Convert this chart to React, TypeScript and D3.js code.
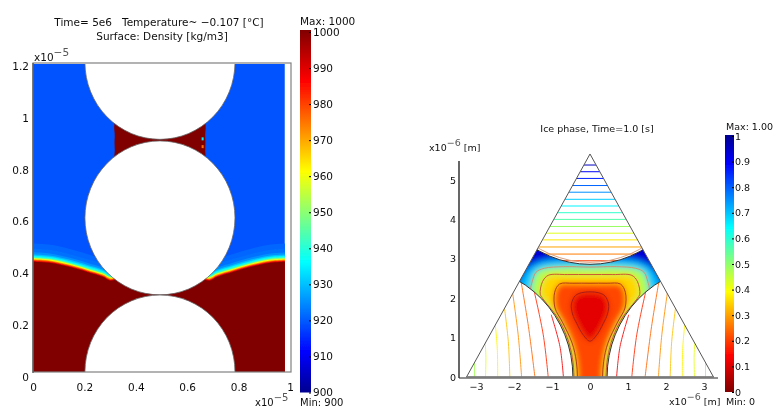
import React, { useEffect, useRef } from "react";
import * as d3 from "d3";

// Colour map
const jetPositions = [0, 0.11, 0.36, 0.61, 0.86, 1];
const jetColors = ["#00008f", "#0000ff", "#00ffff", "#ffff00", "#ff0000", "#800000"];

// Left panel: density
const densityTicks = [900, 910, 920, 930, 940, 950, 960, 970, 980, 990, 1000];
const leftXTicks = [0, 0.2, 0.4, 0.6, 0.8, 1];
const leftYTicks = [0, 0.2, 0.4, 0.6, 0.8, 1, 1.2];
const grainCentersY = [1.214, 0.614, 0.0193];
const grainCenterX = 0.494;
const grainRadiusX = 0.292;
const grainRadiusY = 0.297;
const iceFront: [number, number][] = [
  [0, 0.445], [0.07, 0.44], [0.14, 0.425], [0.21, 0.405], [0.27, 0.387], [0.31, 0.372], [0.45, 0.52],
];
const frontLevels = [921, 922, 925, 930, 935, 940, 950, 960, 970, 980, 990, 1000];
const frontOffsets = [0.07, 0.05, 0.036, 0.028, 0.023, 0.019, 0.015, 0.012, 0.009, 0.006, 0.003, 0];
const bridgeEdge: [number, number][] = [[0.325, 0.99], [0.318, 0.93], [0.318, 0.88], [0.325, 0.83]];
const bridgeSpecks: [number, number, number][] = [[0.66, 0.917, 935], [0.66, 0.887, 975]];

// Right panel: ice phase
const phaseTicks = [0, 0.1, 0.2, 0.3, 0.4, 0.5, 0.6, 0.7, 0.8, 0.9, 1];
const rightXTicks = [-3, -2, -1, 0, 1, 2, 3];
const rightYTicks = [0, 1, 2, 3, 4, 5];
const apexY = 5.66;
const cornerX = 3.25;
const rightGrainRadius = 2.8;

// pore contours, right half only, mirrored when drawn
const contourD: [number, number][] = [
  [0, 2.79], [0.7, 2.8], [1.2, 2.76], [1.42, 2.66], [1.52, 2.42], [1.56, 2.2], [1.3, 1.6], [1.0, 1], [0.8, 0.4], [0.8, -0.4],
];
const contourC: [number, number][] = [
  [0, 2.6], [0.6, 2.6], [1.1, 2.58], [1.25, 2.42], [1.31, 2.1], [1.25, 2], [0.85, 1.5], [0.6, 1], [0.465, 0.5], [0.42, 0], [0.42, -0.4],
];
const contourB: [number, number][] = [
  [0, 2.38], [0.45, 2.38], [0.8, 2.36], [0.93, 2.15], [0.92, 1.75], [0.73, 1.4], [0.47, 0.86], [0.36, 0.4], [0.33, 0], [0.33, -0.4],
];
const contourA: [number, number][] = [
  [0, 2.16], [0.22, 2.14], [0.39, 2.06], [0.49, 1.85], [0.46, 1.6], [0.35, 1.36], [0.18, 1.07], [0, 0.91],
];
const fieldOuter: [number, number][] = [
  [0, 3], [1.0, 2.97], [1.3, 2.92], [1.62, 2.75], [1.85, 2.38], [1.9, 2.0], [1.5, 1], [1.2, -0.4],
];
const fieldLayers = [fieldOuter, contourD, contourC, contourB, contourA];
const fieldValues = [0.7, 0.47, 0.35, 0.21, 0.11];
const contourLines = [contourD, contourC, contourB, contourA];
const contourStrokes = ["#d8886a", "#c84a30", "#a83018", "#a01818"];

// horizontal contours in the upper grain
const upperLevels = [5.38, 5.21, 5.04, 4.86, 4.69, 4.51, 4.34, 4.17, 4.0, 3.82, 3.65, 3.48, 3.3, 3.12, 2.95];
const upperValues = [0.95, 0.9, 0.86, 0.79, 0.75, 0.69, 0.65, 0.59, 0.56, 0.49, 0.42, 0.37, 0.3, 0.26, 0.2];

// contours in the lower left grain, mirrored for the right one
const lowerLines: [number, number][][] = [
  [[-3.04, 0], [-3.04, 0.42]],
  [[-2.75, 0], [-2.74, 0.5], [-2.76, 0.92]],
  [[-2.43, 0], [-2.44, 0.72], [-2.5, 1.4]],
  [[-2.11, 0], [-2.15, 0.9], [-2.26, 1.82]],
  [[-1.8, 0], [-1.89, 1.07], [-2.04, 2.16]],
  [[-1.45, 0], [-1.62, 1.28], [-1.82, 2.46]],
  [[-1.1, 0], [-1.23, 1.07], [-1.47, 2.18]],
  [[-0.7, 0], [-0.79, 0.77], [-1.02, 1.58]],
];
const lowerValues = [0.48, 0.42, 0.38, 0.33, 0.28, 0.24, 0.18, 0.13];

const mirrored = (half: [number, number][]): [number, number][] => {
  const other = half.filter((d) => d[0] !== 0).map((d) => [-d[0], d[1]] as [number, number]);
  return [...half, ...other.reverse()];
};

const App = () => {
  const svgRef = useRef<SVGSVGElement>(null);

  useEffect(() => {
    const width = 773;
    const height = 407;
    const font = "DejaVu Sans";
    const jet = d3.scaleLinear<string>().domain(jetPositions).range(jetColors);

    const svg = d3.select(svgRef.current);
    svg.selectAll("*").remove();
    const defs = svg.append("defs");

    const soft = defs.append("filter").attr("id", "soft")
      .attr("filterUnits", "userSpaceOnUse")
      .attr("x", 0).attr("y", 0).attr("width", width).attr("height", height);
    soft.append("feGaussianBlur").attr("stdDeviation", 0.4);
    const fieldBlur = defs.append("filter").attr("id", "fieldBlur")
      .attr("filterUnits", "userSpaceOnUse")
      .attr("x", 400).attr("y", 150).attr("width", 373).attr("height", 257);
    fieldBlur.append("feGaussianBlur").attr("stdDeviation", 3);

    const root = svg.append("g").attr("filter", "url(#soft)");

    // ---------- left panel ----------
    const x1 = d3.scaleLinear().domain([0, 1]).range([33, 290]);
    const y1 = d3.scaleLinear().domain([0, 1.2]).range([377, 66]);
    const density = d3.scaleLinear().domain([900, 1000]).range([0, 1]);
    const densityY = d3.scaleLinear().domain([900, 1000]).range([392.5, 32]);
    const densityColor = (v: number) => jet(density(v));

    const domainX = x1(0.98);
    const domainTop = 64;
    const domainBottom = 372;

    defs.append("clipPath").attr("id", "leftDomain").append("rect")
      .attr("x", x1(0)).attr("y", domainTop)
      .attr("width", domainX - x1(0)).attr("height", domainBottom - domainTop);

    const left = root.append("g");
    const field = left.append("g").attr("clip-path", "url(#leftDomain)");
    field.append("rect")
      .attr("x", x1(0)).attr("y", domainTop)
      .attr("width", domainX - x1(0)).attr("height", domainBottom - domainTop)
      .attr("fill", densityColor(919));

    const fullFront = [
      ...iceFront,
      ...iceFront.map((d) => [2 * grainCenterX - d[0], d[1]] as [number, number]).reverse(),
    ];
    frontLevels.forEach((level, i) => {
      const area = d3.area<[number, number]>()
        .x((d) => x1(d[0]))
        .y0(domainBottom)
        .y1((d) => y1(d[1] + frontOffsets[i]))
        .curve(d3.curveCatmullRom);
      field.append("path").attr("d", area(fullFront)).attr("fill", densityColor(level));
    });

    const bridge = [
      ...bridgeEdge,
      ...bridgeEdge.map((d) => [2 * grainCenterX - d[0], d[1]] as [number, number]).reverse(),
    ];
    field.append("path")
      .attr("d", d3.line<[number, number]>().x((d) => x1(d[0])).y((d) => y1(d[1])).curve(d3.curveCatmullRomClosed)(bridge))
      .attr("fill", densityColor(1000));
    field.selectAll(".speck").data(bridgeSpecks).join("rect")
      .attr("x", (d) => x1(d[0]) - 1).attr("y", (d) => y1(d[1]) - 2)
      .attr("width", 2).attr("height", 3)
      .attr("fill", (d) => densityColor(d[2]));

    field.selectAll("ellipse").data(grainCentersY).join("ellipse")
      .attr("cx", x1(grainCenterX))
      .attr("cy", (d) => y1(d))
      .attr("rx", x1(grainRadiusX) - x1(0))
      .attr("ry", y1(0) - y1(grainRadiusY))
      .attr("fill", "#fff")
      .attr("stroke", "#666")
      .attr("stroke-width", 0.8);

    // frame
    left.append("rect")
      .attr("x", x1(0)).attr("y", 63)
      .attr("width", 258).attr("height", domainBottom - 63)
      .attr("fill", "none").attr("stroke", "#808080").attr("stroke-width", 1.2);
    left.append("line")
      .attr("x1", x1(0)).attr("x2", x1(0)).attr("y1", 63).attr("y2", 373)
      .attr("stroke", "#555").attr("stroke-width", 1.2);

    const styleAxis = (g: any, size: number) => {
      g.select(".domain").remove();
      g.selectAll("text").attr("font-family", font).attr("font-size", size).attr("fill", "#111");
    };

    left.append("g")
      .attr("transform", `translate(${x1(0) - 1},0)`)
      .call(d3.axisLeft(y1).tickValues(leftYTicks).tickSize(0).tickPadding(3).tickFormat(d3.format("~g") as any))
      .call(styleAxis, 10.5);
    left.append("g")
      .attr("transform", "translate(0,377)")
      .call(d3.axisBottom(x1).tickValues(leftXTicks).tickSize(0).tickPadding(7).tickFormat(d3.format("~g") as any))
      .call(styleAxis, 10.5);

    // colour bars share this
    const colorBar = (id: string, barX: number, barW: number, top: number, bottom: number, reversed: boolean) => {
      const gradient = defs.append("linearGradient").attr("id", id)
        .attr("x1", 0).attr("x2", 0).attr("y1", reversed ? 0 : 1).attr("y2", reversed ? 1 : 0);
      jetPositions.forEach((p, i) => {
        gradient.append("stop").attr("offset", p).attr("stop-color", jetColors[i]);
      });
      root.append("rect")
        .attr("x", barX).attr("y", top)
        .attr("width", barW).attr("height", bottom - top)
        .attr("fill", `url(#${id})`);
    };

    colorBar("densityBar", 300, 11, 30, 392.5, false);
    root.append("g")
      .attr("transform", "translate(311,0)")
      .call(d3.axisRight(densityY).tickValues(densityTicks).tickSize(-2).tickPadding(2).tickFormat(d3.format("d") as any))
      .call(styleAxis, 10.5)
      .call((g: any) => g.selectAll("line").attr("stroke", "#000"));

    const label = (x: number, y: number, text: string, size: number, anchor = "start") =>
      root.append("text")
        .attr("x", x).attr("y", y)
        .attr("font-family", font).attr("font-size", size)
        .attr("text-anchor", anchor).attr("fill", "#111")
        .style("white-space", "pre")
        .text(text);
    const power = (x: number, y: number, exp: string, unit: string, size: number) => {
      const t = label(x, y, "x10", size);
      t.append("tspan").attr("dy", -5).attr("fill", "#555").text(exp);
      if (unit) t.append("tspan").attr("dy", 5).text(" " + unit);
    };

    label(159, 26, "Time= 5e6   Temperature~ −0.107 [°C]", 10.5, "middle");
    label(162, 40, "Surface: Density [kg/m3]", 10.5, "middle");
    label(300, 25, "Max: 1000", 10.5);
    label(300, 406, "Min: 900", 10);
    power(34, 61, "−5", "", 10.5);
    power(255, 406, "−5", "", 10);

    // ---------- right panel ----------
    const x2 = d3.scaleLinear().domain([-3, 3]).range([476, 704]);
    const y2 = d3.scaleLinear().domain([0, 5]).range([377, 180]);
    const phaseY = d3.scaleLinear().domain([0, 1]).range([392, 136]);
    const phaseColor = (v: number) => jet(1 - v);
    const rx = x2(rightGrainRadius) - x2(0);
    const ry = y2(0) - y2(rightGrainRadius);
    const trianglePath = `M${x2(-cornerX)},${y2(0)}L${x2(0)},${y2(apexY)}L${x2(cornerX)},${y2(0)}Z`;
    const grains: [number, number][] = [[0, apexY], [-cornerX, 0], [cornerX, 0]];
    const grainLine = d3.line<[number, number]>().x((d) => x2(d[0])).y((d) => y2(d[1]));

    defs.append("clipPath").attr("id", "triangle").append("path").attr("d", trianglePath);
    grains.forEach((g, i) => {
      defs.append("clipPath").attr("id", `grain${i}`).append("ellipse")
        .attr("cx", x2(g[0])).attr("cy", y2(g[1])).attr("rx", rx).attr("ry", ry);
    });

    const pore = defs.append("mask").attr("id", "pore")
      .attr("maskUnits", "userSpaceOnUse")
      .attr("x", 0).attr("y", 0).attr("width", width).attr("height", height);
    pore.append("path").attr("d", trianglePath).attr("fill", "#fff");
    grains.forEach((g) => {
      pore.append("ellipse")
        .attr("cx", x2(g[0])).attr("cy", y2(g[1])).attr("rx", rx).attr("ry", ry).attr("fill", "#000");
    });

    const right = root.append("g");
    const poreGroup = right.append("g").attr("mask", "url(#pore)");
    const blurred = poreGroup.append("g").attr("filter", "url(#fieldBlur)");
    blurred.append("rect")
      .attr("x", x2(-cornerX)).attr("y", y2(apexY))
      .attr("width", x2(cornerX) - x2(-cornerX)).attr("height", y2(0) - y2(apexY) + 40)
      .attr("fill", phaseColor(0.93));
    const closed = d3.line<[number, number]>().x((d) => x2(d[0])).y((d) => y2(d[1])).curve(d3.curveCatmullRomClosed);
    fieldLayers.forEach((layer, i) => {
      blurred.append("path").attr("d", closed(mirrored(layer))).attr("fill", phaseColor(fieldValues[i]));
    });
    contourLines.forEach((c, i) => {
      poreGroup.append("path")
        .attr("d", closed(mirrored(c)))
        .attr("fill", "none").attr("stroke", contourStrokes[i]).attr("stroke-width", 0.9);
    });

    // grain contours
    const upper = right.append("g").attr("clip-path", "url(#triangle)").append("g").attr("clip-path", "url(#grain0)");
    upperLevels.forEach((level, i) => {
      const half = (apexY - level) * (cornerX / apexY);
      upper.append("path")
        .attr("d", grainLine([[-half, level], [half, level]]))
        .attr("stroke", phaseColor(upperValues[i])).attr("stroke-width", 1).attr("fill", "none");
    });
    upper.append("ellipse")
      .attr("cx", x2(0)).attr("cy", y2(apexY)).attr("rx", rx - 2).attr("ry", ry - 2)
      .attr("fill", "none").attr("stroke", "#d8a080").attr("stroke-width", 1);

    const curved = d3.line<[number, number]>().x((d) => x2(d[0])).y((d) => y2(d[1])).curve(d3.curveCatmullRom);
    [1, -1].forEach((side, s) => {
      const lower = right.append("g").attr("clip-path", "url(#triangle)")
        .append("g").attr("clip-path", `url(#grain${s + 1})`);
      lowerLines.forEach((points, i) => {
        lower.append("path")
          .attr("d", curved(points.map((d) => [d[0] * side, d[1]] as [number, number])))
          .attr("stroke", phaseColor(lowerValues[i])).attr("stroke-width", 1).attr("stroke-opacity", 0.85).attr("fill", "none");
      });
    });

    // grain outlines
    const outlines = right.append("g").attr("clip-path", "url(#triangle)");
    grains.forEach((g) => {
      outlines.append("ellipse")
        .attr("cx", x2(g[0])).attr("cy", y2(g[1])).attr("rx", rx).attr("ry", ry)
        .attr("fill", "none").attr("stroke", "#333").attr("stroke-width", 1);
    });
    right.append("path").attr("d", trianglePath).attr("fill", "none").attr("stroke", "#555").attr("stroke-width", 1);

    // axes
    right.append("line").attr("x1", 459).attr("x2", 459).attr("y1", 161).attr("y2", 378)
      .attr("stroke", "#000").attr("stroke-width", 1.2);
    right.append("line").attr("x1", 459).attr("x2", 718).attr("y1", 378).attr("y2", 378)
      .attr("stroke", "#222").attr("stroke-width", 1);
    right.append("line").attr("x1", x2(-cornerX)).attr("x2", x2(cornerX)).attr("y1", 377).attr("y2", 377)
      .attr("stroke", "#808080").attr("stroke-width", 1.5);
    right.append("g")
      .attr("transform", "translate(458,0)")
      .call(d3.axisLeft(y2).tickValues(rightYTicks).tickSize(0).tickPadding(2).tickFormat(d3.format("d") as any))
      .call(styleAxis, 9.5);
    right.append("g")
      .attr("transform", "translate(0,378)")
      .call(d3.axisBottom(x2).tickValues(rightXTicks).tickSize(0).tickPadding(5).tickFormat(d3.format("d") as any))
      .call(styleAxis, 9.5);

    colorBar("phaseBar", 725, 9, 135, 392, true);
    root.append("g")
      .attr("transform", "translate(734,0)")
      .call(d3.axisRight(phaseY).tickValues(phaseTicks).tickSize(-2).tickPadding(1).tickFormat(d3.format("~g") as any))
      .call(styleAxis, 9.5)
      .call((g: any) => g.selectAll("line").attr("stroke", "#000"));

    label(597, 132, "Ice phase, Time=1.0 [s]", 9.5, "middle");
    label(726, 130, "Max: 1.00", 9.5);
    label(726, 405, "Min: 0", 9.5);
    power(429, 151, "−6", "[m]", 9.5);
    power(669, 405, "−6", "[m]", 9.5);
  }, []);

  return <svg ref={svgRef} width={773} height={407} style={{ position: "absolute", left: 0, top: 0, background: "#fff" }} />;
};

export default App;
